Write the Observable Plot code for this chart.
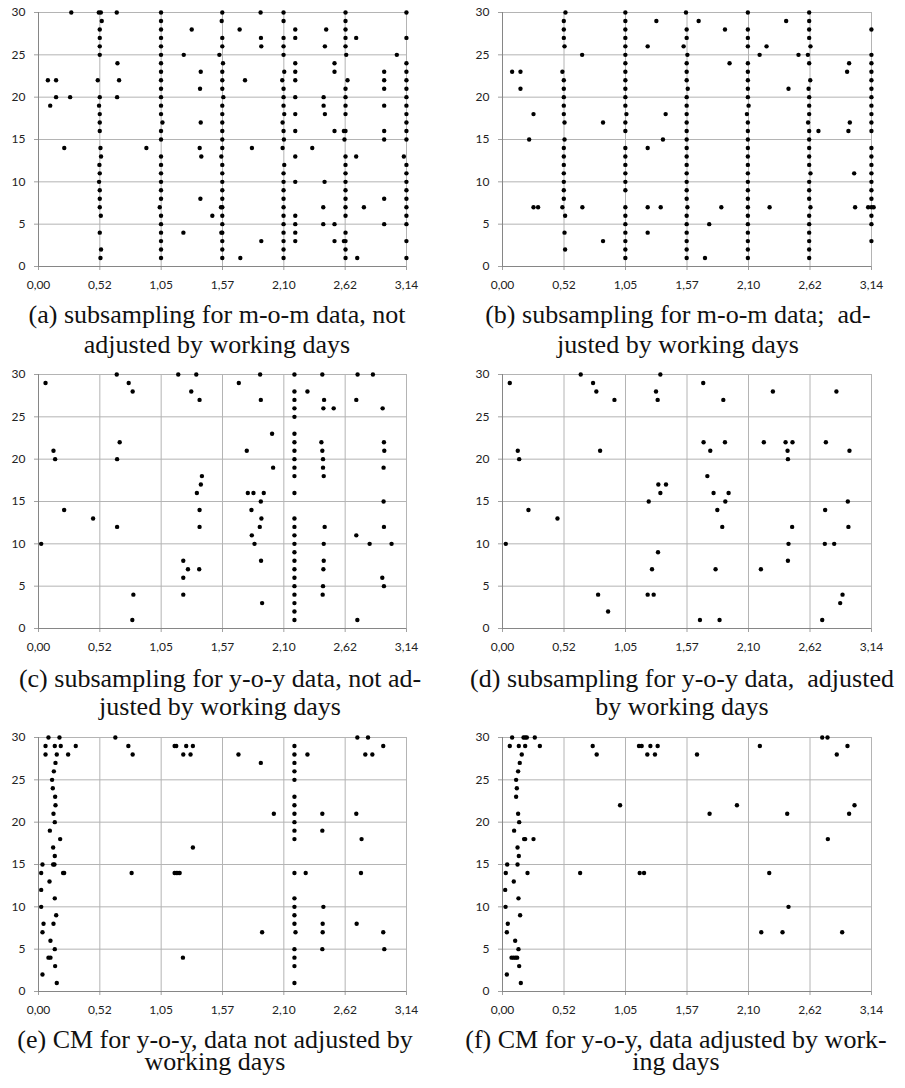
<!DOCTYPE html>
<html><head><meta charset="utf-8">
<script src="https://cdn.jsdelivr.net/npm/d3@7"></script>
<script src="https://cdn.jsdelivr.net/npm/@observablehq/plot@0.6"></script>
<style>
body{margin:0;background:#fff;}
#page{position:relative;width:905px;height:1088px;overflow:hidden;background:#fff;}
.panel{position:absolute;}
.cap{position:absolute;font-family:"Liberation Serif","Times New Roman",serif;font-size:26px;white-space:pre;text-align:center;color:#111;transform:translateX(-50%);}
</style></head><body><div id="page"></div>
<script>
// ---- axis ticks ----
const xTickValues = [0, 0.5236, 1.0472, 1.5708, 2.0944, 2.618, 3.1416];
const xTickLabels = ["0,00", "0,52", "1,05", "1,57", "2,10", "2,62", "3,14"];
const yTickValues = [0, 5, 10, 15, 20, 25, 30];

// ---- panel (a): columns [x, [y...]] and single points [x, y] ----
const aColumns = [
  [0.523, [28,27,26,25,20,18,17,16,11,9,8,7,4]],
  [1.046, [30,29,28,27,26,25,24,23,22,21,20,19,18,16,15,13,12,11,10,9,8,6,5,4,3,2,1]],
  [1.569, [30,27,26,23,22,21,19,18,17,16,15,14,12,11,10,9,8,7,6,5,4,3,2,1]],
  [2.092, [30,29,27,26,25,21,20,19,16,11,10,9,8,7,6,5,4,3,2,1]],
  [2.192, [28,27,24,23,22,20,18,16,13,10,6,5,4,3]],
  [2.527, [24,23,16,5,3]],
  [2.621, [30,29,28,27,26,21,20,19,18,16,13,12,11,10,9,8,7,6,4,3,2,1]],
  [2.951, [23,22,21,19,16,15,8,5]],
  [3.141, [30,27,24,23,22,21,20,19,18,17,16,15,12,11,10,9,8,7,6,5,3,1]]
];
const aPoints = [
  [0.08,22],[0.15,22],[0.10,19],[0.15,20],[0.27,20],[0.22,14],[0.28,30],
  [0.515,30],[0.532,30],[0.540,29],[0.506,22],[0.517,19],[0.529,14],[0.534,13],[0.52,12],[0.517,10],[0.532,6],[0.534,2],[0.529,1],
  [0.668,30],[0.674,24],[0.688,22],[0.671,20],[0.921,14],
  [1.058,17],[1.035,7],
  [1.240,25],[1.308,28],[1.385,23],[1.379,21],[1.385,17],[1.376,14],[1.390,13],[1.382,8],[1.237,4],[1.484,6],
  [1.564,29],[1.544,25],[1.575,24],[1.578,20],[1.561,13],[1.558,7],[1.561,4],
  [1.717,28],[1.763,22],[1.822,14],[1.723,1],[1.896,30],[1.899,27],[1.902,26],[1.902,3],
  [2.098,23],[2.081,22],[2.098,18],[2.084,17],[2.095,15],[2.084,14],[2.098,12],
  [2.337,14],[2.456,28],[2.445,26],[2.434,20],[2.434,19],[2.445,18],[2.442,10],[2.431,7],[2.431,5],
  [2.627,25],[2.638,22],[2.607,16],[2.612,15],[2.607,3],
  [2.712,27],[2.712,13],[2.721,1],[2.778,7],[3.059,25],[3.119,13]
];

// ---- panel (b) ----
const bColumns = [
  [0.522, [29,28,27,22,21,20,19,18,14,13,12,11,10,9,8]],
  [1.046, [30,29,28,27,26,25,24,23,22,21,20,19,17,16,14,13,12,11,10,9,7,6,5,4,3,2,1]],
  [1.568, [28,27,24,23,22,20,19,18,17,16,15,14,13,12,11,10,9,8,6,5,4,3,2,1]],
  [2.089, [30,28,27,26,24,23,22,21,20,17,16,15,14,13,12,11,10,9,8,7,6,5,4,3,2,1]],
  [2.611, [30,29,28,27,24,20,19,18,16,15,14,13,12,10,9,8,6,5,4,3,2,1]],
  [3.141, [28,25,24,23,22,21,20,19,18,17,16,14,13,12,11,10,9,8,7,6,5,3]]
];
const bPoints = [
  [0.082,23],[0.153,23],[0.153,21],[0.264,18],[0.227,15],[0.264,7],[0.303,7],
  [0.536,30],[0.528,26],[0.510,23],[0.528,17],[0.528,15],[0.510,7],[0.533,6],[0.528,4],[0.533,2],
  [0.678,25],[0.680,7],[0.856,17],[0.856,3],
  [1.055,18],
  [1.236,26],[1.236,14],[1.236,7],[1.236,4],[1.310,29],[1.389,18],[1.366,15],[1.347,7],
  [1.562,30],[1.542,26],[1.574,25],[1.577,21],[1.574,7],
  [1.670,29],[1.894,28],[1.933,24],[1.863,7],[1.760,5],[1.724,1],
  [2.095,19],[2.081,18],
  [2.189,25],[2.248,26],[2.274,7],[2.415,29],[2.435,21],[2.520,25],
  [2.622,26],[2.600,25],[2.620,22],[2.606,21],[2.602,17],[2.622,11],[2.622,7],
  [2.690,16],[2.934,23],[2.951,24],[2.945,16],[2.957,17],[2.994,11],[3.002,7],
  [3.113,7],[3.16,7]
];

// ---- panel (c) ----
const cColumns = [
  [2.185, [30,28,27,26,25,23,22,21,20,19,18,16,13,12,11,10,9,8,7,6,5,4,3,2,1]]
];
const cPoints = [
  [0.060,29],[0.128,21],[0.142,20],[0.219,14],[0.023,10],[0.466,13],
  [0.668,30],[0.770,29],[0.804,28],[0.693,22],[0.671,20],[0.671,12],[0.810,4],[0.801,1],
  [1.193,30],[1.347,30],[1.304,28],[1.375,27],[1.395,18],[1.386,17],[1.352,16],[1.375,14],[1.375,12],[1.236,8],[1.276,7],[1.236,6],[1.372,7],[1.236,4],
  [1.710,29],[1.892,30],[1.898,27],[1.994,23],[1.778,21],[2.003,19],[1.787,16],[1.835,16],[1.923,16],[1.898,15],[1.818,14],[1.903,13],[1.889,12],[1.821,11],[1.844,10],[1.900,8],[1.909,3],
  [2.296,28],[2.423,30],[2.438,27],[2.432,26],[2.520,26],[2.415,22],[2.423,21],[2.429,20],[2.429,19],[2.435,18],[2.443,12],[2.435,10],[2.435,8],[2.432,7],[2.429,5],[2.426,4],
  [2.724,30],[2.855,30],[2.713,27],[2.938,26],[2.949,22],[2.952,21],[2.946,19],[2.946,15],[2.949,12],[2.713,11],[2.827,10],[3.014,10],[2.935,6],[2.949,5],[2.722,1]
];

// ---- panel (d) ----
const dColumns = [];
const dPoints = [
  [0.062,29],[0.130,21],[0.142,20],[0.221,14],[0.028,10],[0.468,13],
  [0.666,30],[0.771,29],[0.799,28],[0.953,27],[0.831,21],[0.814,4],[0.899,2],
  [1.344,30],[1.307,28],[1.321,27],[1.327,17],[1.392,17],[1.344,16],[1.245,15],[1.324,9],[1.273,7],[1.236,4],[1.287,4],
  [1.709,29],[1.880,27],[1.712,22],[1.894,22],[1.769,21],[1.744,18],[1.797,16],[1.925,16],[1.897,15],[1.829,14],[1.871,12],[1.814,7],[1.681,1],[1.848,1],
  [2.302,28],[2.225,22],[2.410,22],[2.469,22],[2.427,21],[2.430,20],[2.466,12],[2.435,10],[2.430,8],[2.200,7],
  [2.843,28],[2.753,22],[2.954,21],[2.940,15],[2.747,14],[2.945,12],[2.744,10],[2.824,10],[2.895,4],[2.875,3],[2.722,1]
];

// ---- panel (e) ----
const eColumns = [
  [2.185, [29,28,27,26,25,23,22,21,20,19,18,14,11,10,9,8,5,4,3,1]]
];
const ePoints = [
  [0.085,30],[0.179,30],[0.060,29],[0.139,29],[0.190,29],[0.318,29],[0.060,28],[0.156,28],[0.253,28],
  [0.145,27],[0.131,26],[0.116,25],[0.122,24],[0.142,23],[0.145,22],[0.128,21],[0.139,20],[0.097,19],[0.185,18],[0.125,17],[0.139,16],
  [0.125,15],[0.136,15],[0.034,15],[0.023,14],[0.210,14],[0.219,14],[0.094,13],[0.023,12],[0.139,11],[0.023,10],[0.151,9],[0.043,8],[0.128,8],
  [0.034,7],[0.102,6],[0.139,5],[0.085,4],[0.102,4],[0.142,3],[0.034,2],[0.156,1],
  [0.656,30],[0.767,29],[0.804,28],[0.795,14],
  [1.162,29],[1.176,29],[1.261,29],[1.318,29],[1.236,28],[1.298,28],[1.162,14],[1.176,14],[1.190,14],[1.205,14],[1.318,17],[1.233,4],
  [1.707,28],[1.898,27],[2.009,21],[1.909,7],
  [2.194,7],
  [2.296,28],[2.281,14],[2.423,21],[2.423,19],[2.432,10],[2.426,8],[2.426,7],[2.423,5],
  [2.722,30],[2.813,30],[2.790,28],[2.850,28],[2.943,29],[2.713,21],[2.758,18],[2.753,14],[2.716,8],[2.943,7],[2.952,5]
];

// ---- panel (f) ----
const fColumns = [];
const fPoints = [
  [0.082,30],[0.179,30],[0.193,30],[0.207,30],[0.275,30],[0.062,29],[0.139,29],[0.193,29],[0.318,29],[0.164,28],[0.147,27],[0.133,26],
  [0.116,25],[0.122,24],[0.116,23],[0.133,21],[0.142,20],[0.099,19],[0.184,18],[0.193,18],[0.264,18],[0.128,17],[0.139,16],[0.040,15],
  [0.128,15],[0.028,14],[0.213,14],[0.096,13],[0.023,12],[0.136,11],[0.026,10],[0.150,9],[0.045,8],[0.037,7],[0.108,6],[0.136,5],
  [0.077,4],[0.094,4],[0.111,4],[0.125,4],[0.142,3],[0.037,2],[0.156,1],
  [0.661,14],[0.768,29],[0.802,28],[1.001,22],
  [1.162,29],[1.185,29],[1.259,29],[1.321,29],[1.233,28],[1.298,28],[1.168,14],[1.205,14],
  [1.656,28],[1.763,21],[1.996,22],
  [2.191,29],[2.271,14],[2.203,7],[2.384,7],[2.424,21],[2.435,10],
  [2.722,30],[2.767,30],[2.846,28],[2.937,29],[2.997,22],[2.951,21],[2.770,18],[2.892,7]
];

// ---- captions: [line 1, line 2, centerX, first baseline, line spacing] ----
const captions = [
  ["(a) subsampling for m-o-m data, not", "adjusted by working days", 217, 323.5, 30],
  ["(b) subsampling for m-o-m data;  ad-", "justed by working days", 678, 323.5, 30],
  ["(c) subsampling for y-o-y data, not ad-", "justed by working days", 220, 688, 28.5],
  ["(d) subsampling for y-o-y data,  adjusted", "by working days", 682, 688, 28.5],
  ["(e) CM for y-o-y, data not adjusted by", "working days", 215, 1049, 22],
  ["(f) CM for y-o-y, data adjusted by work-", "ing days", 676, 1049, 22]
];

const page = document.getElementById("page");
const xLabelMap = new Map(xTickValues.map((v, i) => [v, xTickLabels[i]]));

function panel(cols, pts, left, top, isLeft) {
  const data = cols.flatMap(([x, ys]) => ys.map(y => [x, y])).concat(pts);
  const chart = Plot.plot({
    width: isLeft ? 450 : 455,
    height: 296,
    marginLeft: isLeft ? 38 : 52,
    marginRight: isLeft ? 44 : 34,
    marginTop: 12,
    marginBottom: 30,
    style: {fontFamily: "Lato, 'Open Sans', sans-serif", fontSize: "12px", background: "transparent", overflow: "visible", color: "#222"},
    x: {domain: [0, 3.1416]},
    y: {domain: [0, 30]},
    marks: [
      Plot.ruleX(xTickValues.slice(1), {stroke: "#b4b4b4"}),
      Plot.ruleY(yTickValues.slice(1), {stroke: "#b4b4b4"}),
      Plot.axisX(xTickValues, {tickSize: 4, tickPadding: 10, stroke: "#a0a0a0", fill: "#222", tickFormat: d => xLabelMap.get(d), label: null}),
      Plot.axisY(yTickValues, {tickSize: 4, tickPadding: 9, stroke: "#a0a0a0", fill: "#222", label: null}),
      Plot.ruleX([0], {stroke: "#868686"}),
      Plot.ruleY([0], {stroke: "#868686"}),
      Plot.dot(data, {x: d => d[0], y: d => d[1], r: 2.2, fill: "#000", stroke: null})
    ]
  });
  const div = document.createElement("div");
  div.className = "panel";
  div.style.left = left + "px";
  div.style.top = top + "px";
  div.appendChild(chart);
  page.appendChild(div);
}

panel(aColumns, aPoints, 0, 0, true);
panel(bColumns, bPoints, 450, 0, false);
panel(cColumns, cPoints, 0, 362, true);
panel(dColumns, dPoints, 450, 362, false);
panel(eColumns, ePoints, 0, 725, true);
panel(fColumns, fPoints, 450, 725, false);

// one text block per caption; baseline of line 1 = top + (L - 28.8)/2 + 23.17
for (const [l1, l2, cx, base, lh] of captions) {
  const d = document.createElement("div");
  d.className = "cap";
  d.textContent = l1 + "\n" + l2;
  d.style.lineHeight = lh + "px";
  d.style.left = cx + "px";
  d.style.top = (base - ((lh - 28.8) / 2 + 23.17)) + "px";
  page.appendChild(d);
}
</script></body></html>
